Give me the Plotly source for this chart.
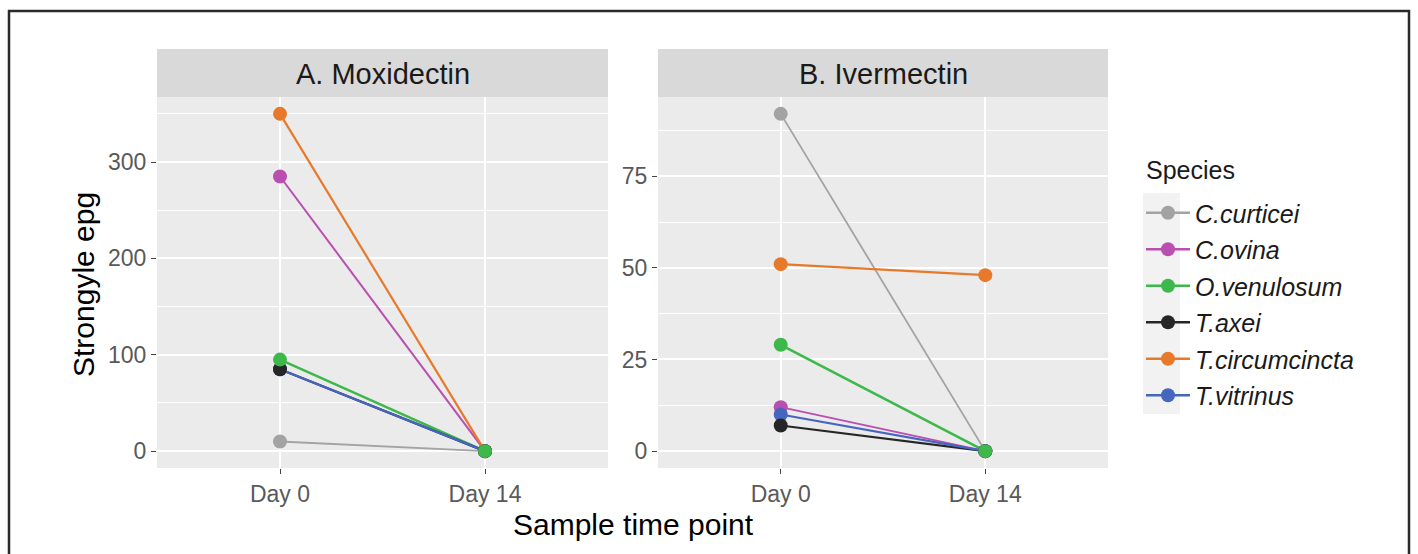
import plotly.graph_objects as go

# Species order and colours
species = ["C.curticei", "C.ovina", "O.venulosum", "T.axei", "T.circumcincta", "T.vitrinus"]
colors = ["#A3A3A3", "#B94FB0", "#3DB84A", "#262626", "#E8792A", "#4565BE"]

# Time points on the x axis
timepoints = ["Day 0", "Day 14"]

# Strongyle epg per species: Day 0, Day 14
moxidectin_day0 = [10, 285, 95, 85, 350, 85]
moxidectin_day14 = [0, 0, 0, 0, 0, 0]
ivermectin_day0 = [92, 12, 29, 7, 51, 10]
ivermectin_day14 = [0, 0, 0, 0, 48, 0]

panel_titles = ["A. Moxidectin", "B. Ivermectin"]

W, H = 1418, 554
FONT = "Liberation Sans, Arial, sans-serif"


def px_x(v):
    return v / W


def px_y(v):
    return 1 - v / H


fig = go.Figure()

line_widths = [1.8, 2.0, 2.6, 2.2, 2.2, 2.2]
# points are drawn after all lines, in this order (later on top)
point_order = [0, 1, 4, 5, 3, 2]

panels = [(moxidectin_day0, moxidectin_day14), (ivermectin_day0, ivermectin_day14)]
for panel, (d0, d14) in enumerate(panels):
    xa = "x" if panel == 0 else "x2"
    ya = "y" if panel == 0 else "y2"
    for i in range(len(species)):
        fig.add_trace(go.Scatter(
            x=timepoints, y=[d0[i], d14[i]], mode="lines",
            line=dict(color=colors[i], width=line_widths[i]),
            name=species[i], legendgroup=species[i], showlegend=False,
            xaxis=xa, yaxis=ya, hoverinfo="skip",
        ))
    for i in point_order:
        fig.add_trace(go.Scatter(
            x=timepoints, y=[d0[i], d14[i]], mode="markers",
            marker=dict(color=colors[i], size=14),
            name=species[i], legendgroup=species[i], showlegend=False,
            xaxis=xa, yaxis=ya, hoverinfo="x+y+name",
        ))

# legend entries (line + point key)
for i in range(len(species)):
    fig.add_trace(go.Scatter(
        x=[None], y=[None], mode="lines+markers",
        line=dict(color=colors[i], width=2.6),
        marker=dict(color=colors[i], size=14),
        name=species[i], legendgroup=species[i], legendrank=i + 1,
        showlegend=True, xaxis="x", yaxis="y",
    ))

tick_font = dict(family=FONT, size=23, color="#595959")

xaxis_common = dict(
    type="category", categoryorder="array", categoryarray=timepoints,
    range=[-0.6, 1.6], showgrid=True, gridcolor="white", gridwidth=1.8,
    zeroline=False, showline=False, ticks="outside", ticklen=5, tickwidth=1.3,
    tickcolor="#444444", tickfont=tick_font, fixedrange=True,
)

yaxis_common = dict(
    showgrid=True, gridcolor="white", gridwidth=1.8, zeroline=False, showline=False,
    ticks="outside", ticklen=5, tickwidth=1.3, tickcolor="#444444",
    tickfont=tick_font, fixedrange=True,
)

y_bottom, y_top = px_y(468), px_y(97)

fig.update_layout(
    width=W, height=H,
    margin=dict(l=0, r=0, t=0, b=0),
    paper_bgcolor="white",
    plot_bgcolor="#EBEBEB",
    font=dict(family=FONT, color="#1A1A1A"),
    xaxis=dict(domain=[px_x(157), px_x(608)], anchor="y", **xaxis_common),
    xaxis2=dict(domain=[px_x(658), px_x(1108)], anchor="y2", **xaxis_common),
    yaxis=dict(domain=[y_bottom, y_top], anchor="x", range=[-17.5, 367.5],
               tickvals=[0, 100, 200, 300],
               minor=dict(tickvals=[50, 150, 250, 350], showgrid=True,
                          gridcolor="white", gridwidth=0.9, ticks=""),
               **yaxis_common),
    yaxis2=dict(domain=[y_bottom, y_top], anchor="x2", range=[-4.6, 96.6],
                tickvals=[0, 25, 50, 75],
                minor=dict(tickvals=[12.5, 37.5, 62.5, 87.5], showgrid=True,
                           gridcolor="white", gridwidth=0.9, ticks=""),
                **yaxis_common),
    showlegend=True,
    legend=dict(
        x=px_x(1141), y=px_y(190), xanchor="left", yanchor="top",
        bgcolor="rgba(0,0,0,0)",
        font=dict(family=FONT, size=25, color="#1A1A1A", style="italic"),
        tracegroupgap=1, itemwidth=44,
    ),
    hovermode="closest",
)

shapes = []
# strip backgrounds
for (l, r) in [(157, 608), (658, 1108)]:
    shapes.append(dict(type="rect", xref="paper", yref="paper",
                       x0=px_x(l), x1=px_x(r), y0=px_y(97), y1=px_y(49),
                       fillcolor="#D9D9D9", line=dict(width=0), layer="below"))
# legend key background
shapes.append(dict(type="rect", xref="paper", yref="paper",
                   x0=px_x(1143), x1=px_x(1180), y0=px_y(414), y1=px_y(193),
                   fillcolor="#F2F2F2", line=dict(width=0), layer="below"))
# outer frame
shapes.append(dict(type="rect", xref="paper", yref="paper",
                   x0=px_x(9), x1=px_x(1409), y0=-0.05, y1=px_y(11),
                   fillcolor="rgba(0,0,0,0)", line=dict(color="#2A2A2A", width=2.5)))
fig.update_layout(shapes=shapes)

annotations = []
for title, (l, r) in zip(panel_titles, [(157, 608), (658, 1108)]):
    annotations.append(dict(text=title, xref="paper", yref="paper",
                            x=px_x((l + r) / 2), y=px_y(74), xanchor="center", yanchor="middle",
                            showarrow=False, font=dict(family=FONT, size=29, color="#1A1A1A")))
annotations.append(dict(text="Sample time point", xref="paper", yref="paper",
                        x=px_x(633), y=px_y(524), xanchor="center", yanchor="middle",
                        showarrow=False, font=dict(family=FONT, size=30, color="#000000")))
annotations.append(dict(text="Strongyle epg", xref="paper", yref="paper",
                        x=px_x(83), y=px_y(285), xanchor="center", yanchor="middle",
                        textangle=-90, showarrow=False,
                        font=dict(family=FONT, size=30, color="#000000")))
# legend heading
annotations.append(dict(text="Species", xref="paper", yref="paper",
                        x=px_x(1144), y=px_y(170), xanchor="left", yanchor="middle",
                        showarrow=False, font=dict(family=FONT, size=25, color="#1A1A1A")))
fig.update_layout(annotations=annotations)

fig.write_html("out.html")
